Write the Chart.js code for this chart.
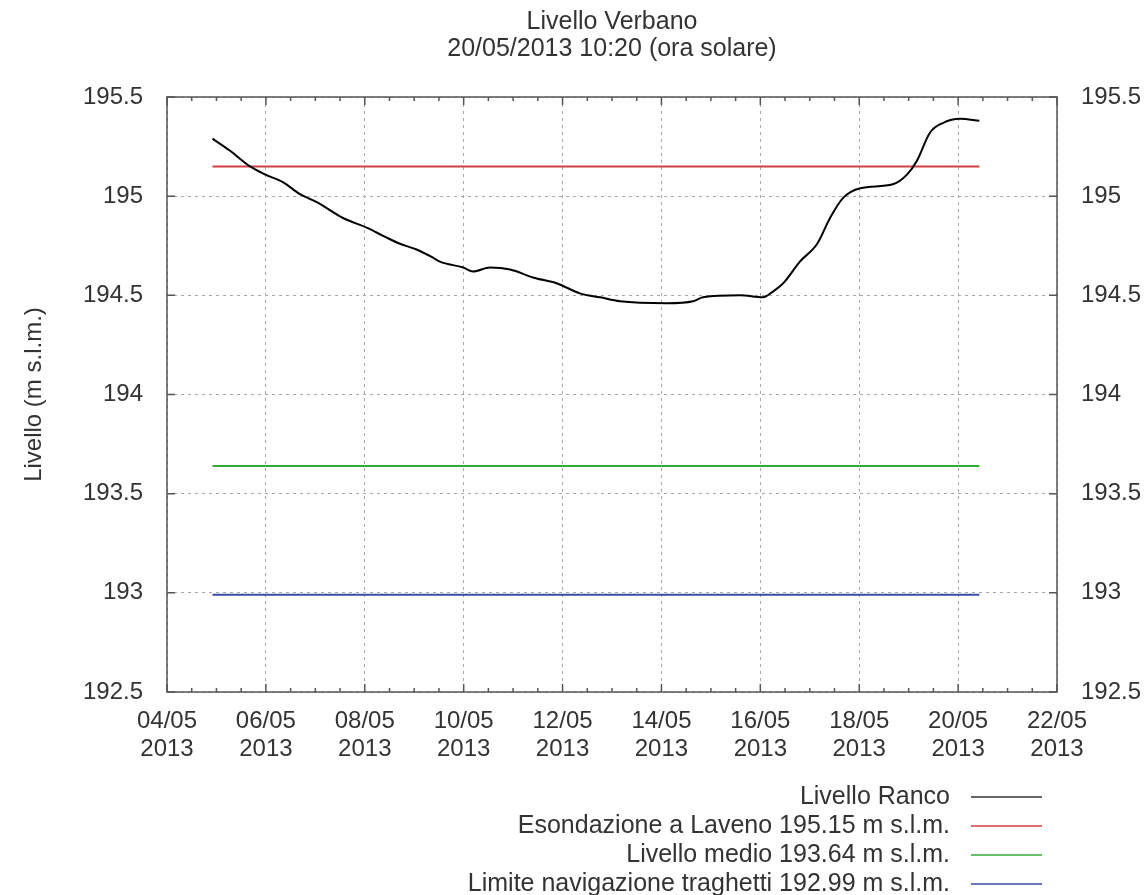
<!DOCTYPE html>
<html>
<head>
<meta charset="utf-8">
<title>Livello Verbano</title>
<script src="https://cdn.jsdelivr.net/npm/chart.js@4.4.0/dist/chart.umd.min.js"></script>
<style>
  html, body { margin: 0; padding: 0; background: #fff; }
  #wrap { width: 1147px; height: 895px; }
</style>
</head>
<body>
<div id="wrap"><canvas id="livelloChart"></canvas></div>
<script>
// giorni dal 04/05/2013 00:00
const giorni = [0.92, 1.27, 1.68, 1.98, 2.35, 2.69, 3.03, 3.56, 4.05, 4.37, 4.71, 5.06, 5.38, 5.52,
    5.99, 6.19, 6.53, 6.94, 7.40, 7.89, 8.35, 8.76, 9.16, 10.11, 10.64, 10.84, 11.59, 12.05,
    12.26, 12.46, 12.80, 13.15, 13.41, 13.67, 14.02, 14.68, 14.97, 15.17, 15.43, 15.70, 16.04, 16.43];
const livelloRanco = [195.29, 195.23, 195.15, 195.11, 195.07, 195.01, 194.97, 194.89, 194.84, 194.80, 194.76, 194.73, 194.69, 194.67,
    194.64, 194.62, 194.64, 194.63, 194.59, 194.56, 194.51, 194.49, 194.47, 194.46, 194.47, 194.49, 194.50, 194.49,
    194.52, 194.56, 194.67, 194.76, 194.89, 194.99, 195.04, 195.06, 195.11, 195.18, 195.32, 195.37, 195.39, 195.38];

const soglieValori = [195.15, 193.64, 192.99];
const soglieNomi = [
    'Esondazione a Laveno 195.15 m s.l.m.',
    'Livello medio 193.64 m s.l.m.',
    'Limite navigazione traghetti 192.99 m s.l.m.'
];
const soglieColori = ['#d04040', '#33aa33', '#3c4aa8'];

const tickGiorni = [0, 2, 4, 6, 8, 10, 12, 14, 16, 18];
const tickDate = ['04/05', '06/05', '08/05', '10/05', '12/05', '14/05', '16/05', '18/05', '20/05', '22/05'];
const anno = '2013';

const titolo = ['Livello Verbano', '20/05/2013 10:20 (ora solare)'];

Chart.defaults.font.family = '"Liberation Sans", Arial, sans-serif';
Chart.defaults.color = '#333';

const datasets = [{
    label: 'Livello Ranco',
    data: giorni.map(function (g, i) { return { x: g, y: livelloRanco[i] }; }),
    borderColor: '#000',
    borderWidth: 2,
    pointRadius: 0,
    cubicInterpolationMode: 'monotone'
}];
soglieValori.forEach(function (v, i) {
    datasets.push({
        label: soglieNomi[i],
        data: [{ x: giorni[0], y: v }, { x: giorni[giorni.length - 1], y: v }],
        borderColor: soglieColori[i],
        borderWidth: 2,
        pointRadius: 0
    });
});

// titolo, riquadro con tacche interne e legenda stile gnuplot
const gnuplotStyle = {
    id: 'gnuplotStyle',
    afterDatasetsDraw(chart) {
        const ctx = chart.ctx;
        const a = chart.chartArea;
        const x = chart.scales.x;
        const y = chart.scales.y;
        ctx.save();
        ctx.strokeStyle = '#555';
        ctx.lineWidth = 1.5;
        ctx.beginPath();
        for (let d = x.min; d <= x.max + 1e-9; d += 0.5) {
            const px = x.getPixelForValue(d);
            const len = (d % 2 === 0) ? 8 : 4;
            ctx.moveTo(px, a.bottom); ctx.lineTo(px, a.bottom - len);
            ctx.moveTo(px, a.top); ctx.lineTo(px, a.top + len);
        }
        y.ticks.forEach(function (t) {
            const py = y.getPixelForValue(t.value);
            ctx.moveTo(a.left, py); ctx.lineTo(a.left + 8, py);
            ctx.moveTo(a.right, py); ctx.lineTo(a.right - 8, py);
        });
        ctx.stroke();
        ctx.strokeRect(a.left, a.top, a.right - a.left, a.bottom - a.top);
        ctx.restore();
    },
    afterDraw(chart) {
        const ctx = chart.ctx;
        const a = chart.chartArea;
        ctx.save();
        ctx.fillStyle = '#333';
        ctx.font = '25px "Liberation Sans", Arial, sans-serif';
        ctx.textAlign = 'center';
        ctx.textBaseline = 'middle';
        const cx = (a.left + a.right) / 2;
        ctx.fillText(titolo[0], cx, 22);
        ctx.fillText(titolo[1], cx, 49);

        ctx.textAlign = 'right';
        chart.data.datasets.forEach(function (ds, i) {
            const ly = 797 + i * 29;
            ctx.fillStyle = '#333';
            ctx.fillText(ds.label, 950, ly);
            ctx.strokeStyle = i === 0 ? '#333' : ds.borderColor;
            ctx.lineWidth = 1.5;
            ctx.beginPath();
            ctx.moveTo(971, ly);
            ctx.lineTo(1042, ly);
            ctx.stroke();
        });
        ctx.restore();
    }
};

new Chart(document.getElementById('livelloChart'), {
    type: 'line',
    data: { datasets: datasets },
    plugins: [gnuplotStyle],
    options: {
        responsive: true,
        maintainAspectRatio: false,
        animation: false,
        layout: { padding: { top: 97, left: 0, right: 0, bottom: 0 } },
        plugins: {
            legend: { display: false },
            tooltip: { enabled: false }
        },
        scales: {
            x: {
                type: 'linear',
                min: 0,
                max: 18,
                afterBuildTicks: function (scale) {
                    scale.ticks = tickGiorni.map(function (v) { return { value: v }; });
                },
                afterFit: function (scale) { scale.height = 203; },
                ticks: {
                    autoSkip: false,
                    maxRotation: 0,
                    padding: 16,
                    color: '#333',
                    font: { size: 24, lineHeight: 1.15 },
                    callback: function (value) {
                        return [tickDate[tickGiorni.indexOf(value)], anno];
                    }
                },
                grid: { color: '#a8a8a8', lineWidth: 1, drawTicks: false },
                border: { display: false, dash: [3, 4] }
            },
            y: {
                position: 'left',
                min: 192.5,
                max: 195.5,
                afterFit: function (scale) { scale.width = 167; },
                ticks: {
                    stepSize: 0.5,
                    padding: 24,
                    color: '#333',
                    font: { size: 24 },
                    callback: function (value) { return String(value); }
                },
                grid: { color: '#a8a8a8', lineWidth: 1, drawTicks: false },
                border: { display: false, dash: [3, 4] },
                title: {
                    display: true,
                    text: 'Livello (m s.l.m.)',
                    color: '#333',
                    font: { size: 24 },
                    padding: { top: 20, bottom: 0 }
                }
            },
            y2: {
                position: 'right',
                min: 192.5,
                max: 195.5,
                afterFit: function (scale) { scale.width = 90; },
                ticks: {
                    stepSize: 0.5,
                    padding: 24,
                    color: '#333',
                    font: { size: 24 },
                    callback: function (value) { return String(value); }
                },
                grid: { display: false, drawTicks: false },
                border: { display: false }
            }
        }
    }
});
</script>
</body>
</html>
